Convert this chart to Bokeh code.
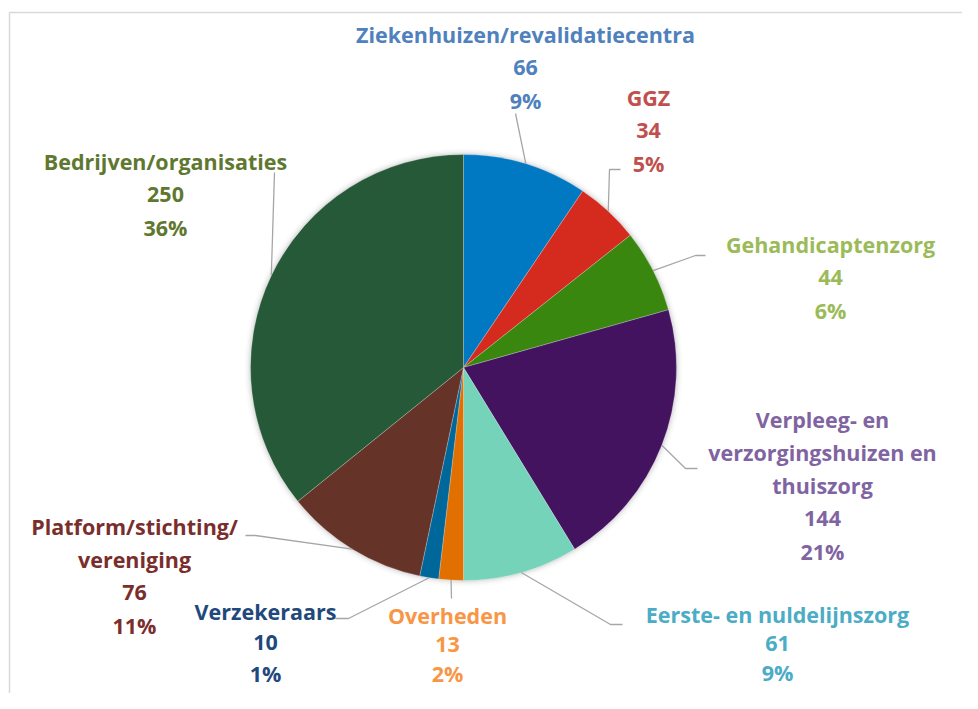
import math
from bokeh.plotting import figure
from bokeh.models import Range1d
from bokeh.core.properties import value
from bokeh.embed import file_html
from bokeh.resources import INLINE

# ---- data ----
categories = ["Ziekenhuizen/revalidatiecentra", "GGZ", "Gehandicaptenzorg",
              "Verpleeg- en verzorgingshuizen en thuiszorg", "Eerste- en nuldelijnszorg",
              "Overheden", "Verzekeraars", "Platform/stichting/ vereniging",
              "Bedrijven/organisaties"]
counts = [66, 34, 44, 144, 61, 13, 10, 76, 250]
label_name_lines = [
    ["Ziekenhuizen/revalidatiecentra"],
    ["GGZ"],
    ["Gehandicaptenzorg"],
    ["Verpleeg- en", "verzorgingshuizen en", "thuiszorg"],
    ["Eerste- en nuldelijnszorg"],
    ["Overheden"],
    ["Verzekeraars"],
    ["Platform/stichting/", "vereniging"],
    ["Bedrijven/organisaties"],
]
slice_colors = ["#0079C2", "#D52B1E", "#3A870F", "#43135F", "#74D3B9",
                "#E17000", "#00679A", "#663329", "#265937"]
label_colors = ["#4F81BD", "#C0504D", "#9BBB59", "#8064A2", "#4BACC6",
                "#F79646", "#1F497D", "#7A2E2C", "#5F7830"]

# ---- layout (picture pixels, origin top-left) ----
W, H = 962, 693
CX, CY, R = 463, 367, 213
label_pos = [(525, 34), (648, 97), (830, 244), (822, 419), (777, 614),
             (447, 615), (265, 611), (134, 526), (165, 161)]
label_step = [33, 33, 33, 33, 29, 29, 31, 33, 33]
leader_pts = [
    [(515, 113)],
    [(609, 169), (620, 169)],
    [(695, 255), (705, 255)],
    [(685, 468), (697, 468)],
    [(610, 624), (622, 624)],
    [(451, 598)],
    [(348, 618), (335, 618)],
    [(255, 535), (245, 535)],
    [(274, 172)],
]

def Y(sy):
    return H - sy

p = figure(width=W, height=H, output_backend="svg", toolbar_location=None,
           x_range=Range1d(0, W), y_range=Range1d(0, H), min_border=0)
p.axis.visible = False
p.grid.visible = False
p.outline_line_color = None
p.background_fill_color = "white"

# frame
p.line([9, 9, 990], [Y(720), Y(12), Y(12)], line_color="#D9D9D9", line_width=1.5)

# soft shadow
for k, a in [(6, 0.03), (4, 0.05), (2.5, 0.07), (1.2, 0.1)]:
    p.circle(x=[CX], y=[Y(CY)], radius=R + k, fill_color="#7F7F7F",
             fill_alpha=a, line_color=None)

total = sum(counts)
start = math.pi / 2
starts, ends, mids = [], [], []
for c in counts:
    sweep = 2 * math.pi * c / total
    starts.append(start - sweep)
    ends.append(start)
    mids.append(start - sweep / 2)
    start -= sweep

p.wedge(x=[CX] * len(counts), y=[Y(CY)] * len(counts), radius=R,
        start_angle=starts, end_angle=ends, fill_color=slice_colors,
        line_color="white", line_width=0.4, line_alpha=0.6)

# leader lines
for m, pts in zip(mids, leader_pts):
    xs = [CX + R * math.cos(m)] + [q[0] for q in pts]
    ys = [Y(CY) + R * math.sin(m)] + [Y(q[1]) for q in pts]
    p.line(xs, ys, line_color="#A6A6A6", line_width=1.3)

# labels
for i, c in enumerate(counts):
    lines = label_name_lines[i] + [str(c), f"{round(100 * c / total)}%"]
    lx, ly = label_pos[i]
    for j, t in enumerate(lines):
        p.text(x=[lx], y=[Y(ly + j * label_step[i])], text=[t],
               text_font=value("Open Sans"), text_font_style="bold",
               text_font_size="21.5px", text_color=label_colors[i],
               text_align="center", text_baseline="middle")

open("out.html", "w").write(file_html(p, INLINE))
